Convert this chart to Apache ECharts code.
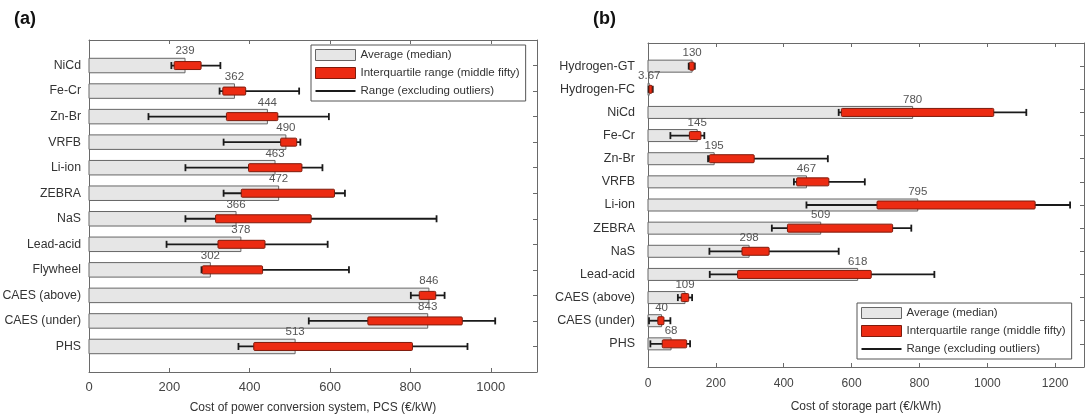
<!DOCTYPE html>
<html>
<head>
<meta charset="utf-8">
<script src="https://cdn.jsdelivr.net/npm/echarts@6/dist/echarts.min.js"></script>
<style>
  html, body { margin: 0; padding: 0; background: #fff; }
  #chart { width: 1086px; height: 416px; }
</style>
</head>
<body>
<div id="chart"></div>
<script>
// (a) power conversion system cost, €/kW
const catsA = ['NiCd', 'Fe-Cr', 'Zn-Br', 'VRFB', 'Li-ion', 'ZEBRA', 'NaS', 'Lead-acid', 'Flywheel', 'CAES (above)', 'CAES (under)', 'PHS'];
const medianA = [239, 362, 444, 490, 463, 472, 366, 378, 302, 846, 843, 513];
const q1A = [212, 333, 342, 477, 397, 379, 315, 321, 282, 822, 694, 410];
const q3A = [279, 390, 470, 517, 530, 611, 553, 438, 432, 863, 929, 805];
const loA = [205, 325, 148, 335, 240, 335, 240, 193, 280, 801, 547, 372];
const hiA = [327, 523, 597, 526, 581, 637, 865, 594, 647, 885, 1011, 942];

// (b) storage part cost, €/kWh
const catsB = ['Hydrogen-GT', 'Hydrogen-FC', 'NiCd', 'Fe-Cr', 'Zn-Br', 'VRFB', 'Li-ion', 'ZEBRA', 'NaS', 'Lead-acid', 'CAES (above)', 'CAES (under)', 'PHS'];
const medianB = [130, 3.67, 780, 145, 195, 467, 795, 509, 298, 618, 109, 40, 68];
const q1B = [122, 3, 570, 122, 181, 438, 675, 411, 277, 264, 98, 29, 42];
const q3B = [136, 12, 1019, 156, 313, 533, 1141, 721, 357, 658, 120, 47, 114];
const loB = [120, 2, 562, 66, 177, 430, 467, 365, 181, 182, 88, 3, 7];
const hiB = [138, 14, 1115, 166, 530, 639, 1244, 776, 562, 844, 130, 66, 124];

const tickLabels = [0, 200, 400, 600, 800, 1000, 1200];

const FONT = 'Liberation Sans, Arial, sans-serif';
const NAME_MED = 'Average (median)';
const NAME_IQR = 'Interquartile range (middle fifty)';
const NAME_RNG = 'Range (excluding outliers)';

function medianRender(barH) {
  return function (params, api) {
    const y = api.value(0), v = api.value(1);
    const p0 = api.coord([0, y]);
    const p1 = api.coord([v, y]);
    return {
      type: 'group',
      children: [
        { type: 'rect', shape: { x: p0[0], y: p0[1] - barH / 2, width: p1[0] - p0[0], height: barH },
          style: { fill: '#e6e6e6', stroke: '#666', lineWidth: 1 } },
        { type: 'text', style: { text: String(v), x: p1[0], y: p0[1] - barH / 2 - 1, align: 'center',
          verticalAlign: 'bottom', fill: '#555', font: '11.5px ' + FONT } }
      ]
    };
  };
}

function rangeRender(params, api) {
  const y = api.value(0);
  const a = api.coord([api.value(1), y]);
  const b = api.coord([api.value(2), y]);
  const c = 3.5;
  const st = { stroke: '#1a1a1a', lineWidth: 1.8 };
  return {
    type: 'group',
    children: [
      { type: 'line', shape: { x1: a[0], y1: a[1], x2: b[0], y2: b[1] }, style: st },
      { type: 'line', shape: { x1: a[0], y1: a[1] - c, x2: a[0], y2: a[1] + c }, style: st },
      { type: 'line', shape: { x1: b[0], y1: b[1] - c, x2: b[0], y2: b[1] + c }, style: st }
    ]
  };
}

function iqrRender(params, api) {
  const y = api.value(0);
  const a = api.coord([api.value(1), y]);
  const b = api.coord([api.value(2), y]);
  const h = 8;
  return {
    type: 'rect',
    shape: { x: a[0], y: a[1] - h / 2, width: Math.max(b[0] - a[0], 3), height: h, r: 1 },
    style: { fill: '#ec2b12', stroke: '#7e1b0c', lineWidth: 1 }
  };
}

function seriesFor(axis, cats, med, q1, q3, lo, hi, barH) {
  return [
    { type: 'custom', name: NAME_MED, xAxisIndex: axis, yAxisIndex: axis, renderItem: medianRender(barH),
      encode: { x: 1, y: 0 }, itemStyle: { color: '#e6e6e6' },
      data: cats.map((c, i) => [i + 1, med[i]]) },
    { type: 'custom', name: NAME_RNG, xAxisIndex: axis, yAxisIndex: axis, renderItem: rangeRender,
      encode: { x: [1, 2], y: 0 }, itemStyle: { color: '#1a1a1a' },
      data: cats.map((c, i) => [i + 1, lo[i], hi[i]]) },
    { type: 'custom', name: NAME_IQR, xAxisIndex: axis, yAxisIndex: axis, renderItem: iqrRender,
      encode: { x: [1, 2], y: 0 }, itemStyle: { color: '#ec2b12' },
      data: cats.map((c, i) => [i + 1, q1[i], q3[i]]) }
  ];
}

const lineCol = '#6a6a6a';
function xAxes(grid, max, name, fs, labelGap, nameGap) {
  const fmt = v => (tickLabels.indexOf(v) >= 0 ? String(v) : '');
  return [
    { type: 'value', gridIndex: grid, min: 0, max: max, interval: 200, position: 'bottom',
      name: name, nameLocation: 'middle', nameGap: nameGap,
      nameTextStyle: { color: '#333', fontSize: 12, fontFamily: FONT },
      axisLine: { show: true, onZero: false, lineStyle: { color: lineCol } },
      axisTick: { show: true, inside: true, length: 4, lineStyle: { color: lineCol } },
      axisLabel: { formatter: fmt, color: '#444', fontSize: fs, fontFamily: FONT, margin: labelGap },
      splitLine: { show: false } },
    { type: 'value', gridIndex: grid, min: 0, max: max, interval: 200, position: 'top',
      axisLine: { show: true, onZero: false, lineStyle: { color: lineCol } },
      axisTick: { show: true, inside: true, length: 4, lineStyle: { color: lineCol } },
      axisLabel: { show: false }, splitLine: { show: false } }
  ];
}
function yAxes(grid, cats, fs, margin) {
  return [
    { type: 'value', gridIndex: grid, min: 0, max: cats.length + 1, interval: 1, inverse: true, position: 'left',
      axisLine: { show: true, onZero: false, lineStyle: { color: lineCol } },
      axisTick: { show: false },
      axisLabel: { formatter: v => cats[v - 1] || '', color: '#333', fontSize: fs, fontFamily: FONT, margin: margin },
      splitLine: { show: false } },
    { type: 'value', gridIndex: grid, min: 0, max: cats.length + 1, interval: 1, inverse: true, position: 'right',
      axisLine: { show: true, onZero: false, lineStyle: { color: lineCol } },
      axisTick: { show: true, inside: true, length: 4, lineStyle: { color: lineCol } },
      axisLabel: { show: false }, splitLine: { show: false } }
  ];
}

function legendAt(left, top) {
  return {
    orient: 'vertical', left: left, top: top, selectedMode: false,
    backgroundColor: '#fff', borderColor: '#555', borderWidth: 1,
    padding: [4, 6, 4, 4], itemGap: 6, itemWidth: 40, itemHeight: 11,
    textStyle: { color: '#333', fontSize: 11.5, fontFamily: FONT },
    data: [
      { name: NAME_MED, icon: 'rect', itemStyle: { color: '#e6e6e6', borderColor: '#666', borderWidth: 1 } },
      { name: NAME_IQR, icon: 'rect', itemStyle: { color: '#ec2b12', borderColor: '#7e1b0c', borderWidth: 1 } },
      { name: NAME_RNG, icon: 'path://M0,0 L40,0 L40,2 L0,2 Z', itemStyle: { color: '#1a1a1a' } }
    ]
  };
}

const chart = echarts.init(document.getElementById('chart'), null, { renderer: 'canvas' });
const xa = xAxes(0, 1115, 'Cost of power conversion system, PCS (€/kW)', 13, 9, 30);
const xb = xAxes(1, 1285, 'Cost of storage part (€/kWh)', 12, 11, 34);
const ya = yAxes(0, catsA, 12.3, 8);
const yb = yAxes(1, catsB, 12.5, 13);

chart.setOption({
  animation: false,
  textStyle: { fontFamily: FONT },
  grid: [
    { left: 89, right: 549, top: 40, bottom: 44, outerBoundsMode: 'none' },
    { left: 648, right: 2, top: 43, bottom: 49, outerBoundsMode: 'none' }
  ],
  // axis order: 0 bottom-a, 1 top-a, 2 bottom-b, 3 top-b
  xAxis: [xa[0], xa[1], xb[0], xb[1]],
  yAxis: [ya[0], ya[1], yb[0], yb[1]],
  legend: [legendAt(311, 45), legendAt(857, 303)],
  graphic: [
    { type: 'text', left: 14, top: 10, style: { text: '(a)', font: 'bold 18px ' + FONT, fill: '#111' } },
    { type: 'text', left: 593, top: 10, style: { text: '(b)', font: 'bold 18px ' + FONT, fill: '#111' } }
  ],
  series: [
    ...seriesFor(0, catsA, medianA, q1A, q3A, loA, hiA, 14.5),
    ...seriesFor(2, catsB, medianB, q1B, q3B, loB, hiB, 12)
  ]
});
</script>
</body>
</html>
